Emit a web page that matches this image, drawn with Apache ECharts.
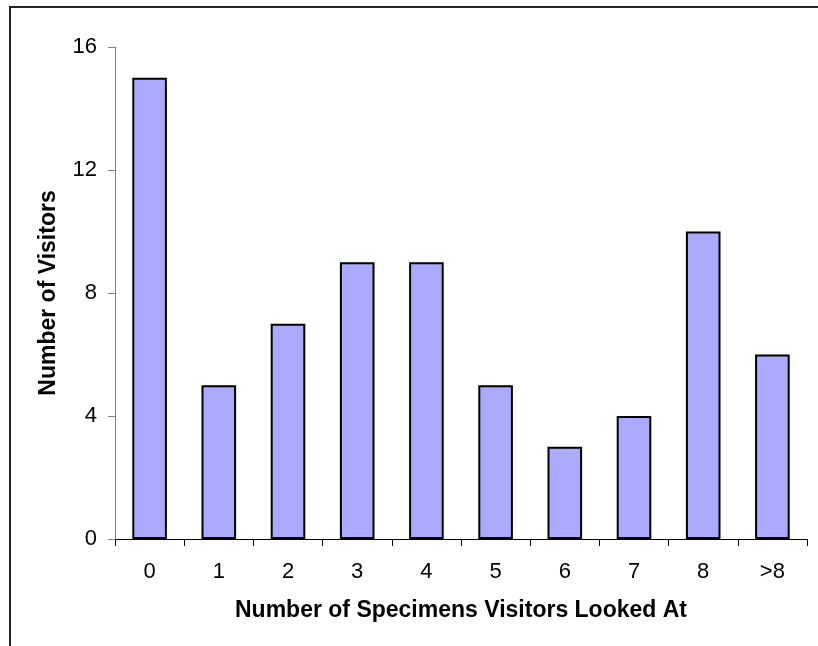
<!DOCTYPE html>
<html>
<head>
<meta charset="utf-8">
<script src="https://cdn.jsdelivr.net/npm/echarts@6/dist/echarts.min.js"></script>
<style>
  html, body { margin: 0; padding: 0; background: #fff; }
  #chart { width: 818px; height: 646px; }
</style>
</head>
<body>
<div id="chart"></div>
<script>
// Visitor counts by how many specimens each visitor looked at
const categories = ['0', '1', '2', '3', '4', '5', '6', '7', '8', '>8'];
const visitors = [15, 5, 7, 9, 9, 5, 3, 4, 10, 6];
const yTicks = { min: 0, max: 16, interval: 4 };

const chart = echarts.init(document.getElementById('chart'));
chart.setOption({
  animation: false,
  backgroundColor: '#ffffff',
  textStyle: { fontFamily: 'Arial, "Liberation Sans", sans-serif' },
  graphic: [{
    type: 'rect',
    shape: { x: 10, y: 7, width: 900, height: 700 },
    style: { fill: 'none', stroke: '#222', lineWidth: 2 },
    silent: true
  }],
  grid: { left: 115, top: 47, right: 11, bottom: 107, containLabel: false },
  xAxis: {
    type: 'category',
    data: categories,
    name: 'Number of Specimens Visitors Looked At',
    nameLocation: 'middle',
    nameGap: 60,
    nameTextStyle: { fontSize: 23, fontWeight: 'bold', color: '#000' },
    axisLine: { lineStyle: { color: '#000', width: 1 } },
    axisTick: { show: true, alignWithLabel: false, length: 7, lineStyle: { color: '#000' } },
    axisLabel: { fontSize: 22, color: '#000', margin: 22 }
  },
  yAxis: {
    type: 'value',
    min: yTicks.min,
    max: yTicks.max,
    interval: yTicks.interval,
    name: 'Number of Visitors',
    nameLocation: 'middle',
    nameGap: 55,
    nameTextStyle: { fontSize: 23, fontWeight: 'bold', color: '#000' },
    axisLine: { show: true, lineStyle: { color: '#808080', width: 1 } },
    axisTick: { show: true, length: 7, lineStyle: { color: '#808080' } },
    axisLabel: { fontSize: 22, color: '#000', margin: 18 },
    splitLine: { show: false }
  },
  series: [{
    type: 'bar',
    data: visitors,
    barWidth: '50%',
    itemStyle: { color: '#aaaaff', borderColor: '#000', borderWidth: 2 }
  }]
});
</script>
</body>
</html>
